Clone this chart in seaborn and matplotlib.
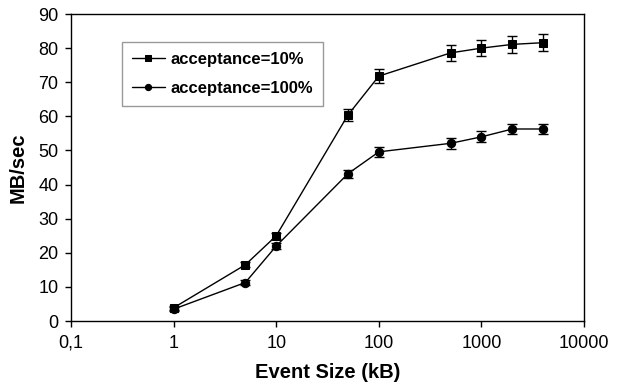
import numpy as np
import pandas as pd
import matplotlib
matplotlib.use('Agg')
import matplotlib.pyplot as plt
import seaborn as sns

sns.set_style('white')
plt.rcParams['font.family'] = ['Liberation Sans', 'DejaVu Sans']
plt.rcParams['text.color'] = 'black'
plt.rcParams['axes.labelcolor'] = 'black'

# Event sizes (kB) and throughput (MB/sec) for the two acceptance settings
event_size = [1, 5, 10, 50, 100, 500, 1000, 2000, 4000]
mb_acc10 = [3.9, 16.5, 25.0, 60.4, 71.8, 78.6, 80.0, 81.1, 81.6]
err_acc10 = [0.6, 0.7, 0.8, 1.8, 2.0, 2.3, 2.4, 2.5, 2.5]
mb_acc100 = [3.5, 11.3, 22.0, 43.2, 49.6, 52.1, 54.0, 56.3, 56.3]
err_acc100 = [0.5, 0.6, 0.8, 1.2, 1.4, 1.6, 1.6, 1.6, 1.6]
labels = ['acceptance=10%', 'acceptance=100%']

df = pd.DataFrame({
    'size': event_size * 2,
    'mb': mb_acc10 + mb_acc100,
    'err': err_acc10 + err_acc100,
    'series': [labels[0]] * len(event_size) + [labels[1]] * len(event_size),
})

fig = plt.figure(figsize=(6.24, 3.85), dpi=100)
ax = fig.add_axes([0.1138, 0.166, 0.8222, 0.7976])

sns.lineplot(data=df, x='size', y='mb', hue='series', style='series',
             markers={labels[0]: 's', labels[1]: 'o'}, dashes=False,
             palette={labels[0]: 'black', labels[1]: 'black'},
             markersize=6, linewidth=1, markeredgecolor='black', ax=ax)

for lab in labels:
    sub = df[df['series'] == lab]
    ax.errorbar(sub['size'], sub['mb'], yerr=sub['err'], fmt='none',
                ecolor='black', elinewidth=1, capsize=3.5, capthick=1)

ax.set_xscale('log')
ax.set_xlim(0.1, 10000)
ax.set_ylim(0, 90)
ax.set_yticks(range(0, 91, 10))
ax.set_xticks([0.1, 1, 10, 100, 1000, 10000])
ax.set_xticklabels(['0,1', '1', '10', '100', '1000', '10000'])
ax.minorticks_off()
ax.tick_params(axis='both', labelsize=13, length=4, width=1, direction='out',
               bottom=True, left=True, colors='black', labelcolor='black')
ax.tick_params(axis='x', pad=6)
ax.tick_params(axis='y', pad=5)
for s in ax.spines.values():
    s.set_color('black')
    s.set_linewidth(1)

ax.set_xlabel('Event Size (kB)', fontsize=14.5, fontweight='bold', labelpad=8)
ax.set_ylabel('MB/sec', fontsize=14.5, fontweight='bold', labelpad=8)

leg = ax.legend(loc='upper left', bbox_to_anchor=(0.099, 0.909), frameon=True,
                fancybox=False, edgecolor='gray', prop={'weight': 'bold', 'size': 12},
                handlelength=2.0, borderpad=0.6, labelspacing=0.85, handletextpad=0.3,
                borderaxespad=0, title=None, markerscale=0.75)
leg.get_frame().set_linewidth(1)
for t in leg.get_texts():
    t.set_color('black')

fig.savefig('out.png', dpi=100)
